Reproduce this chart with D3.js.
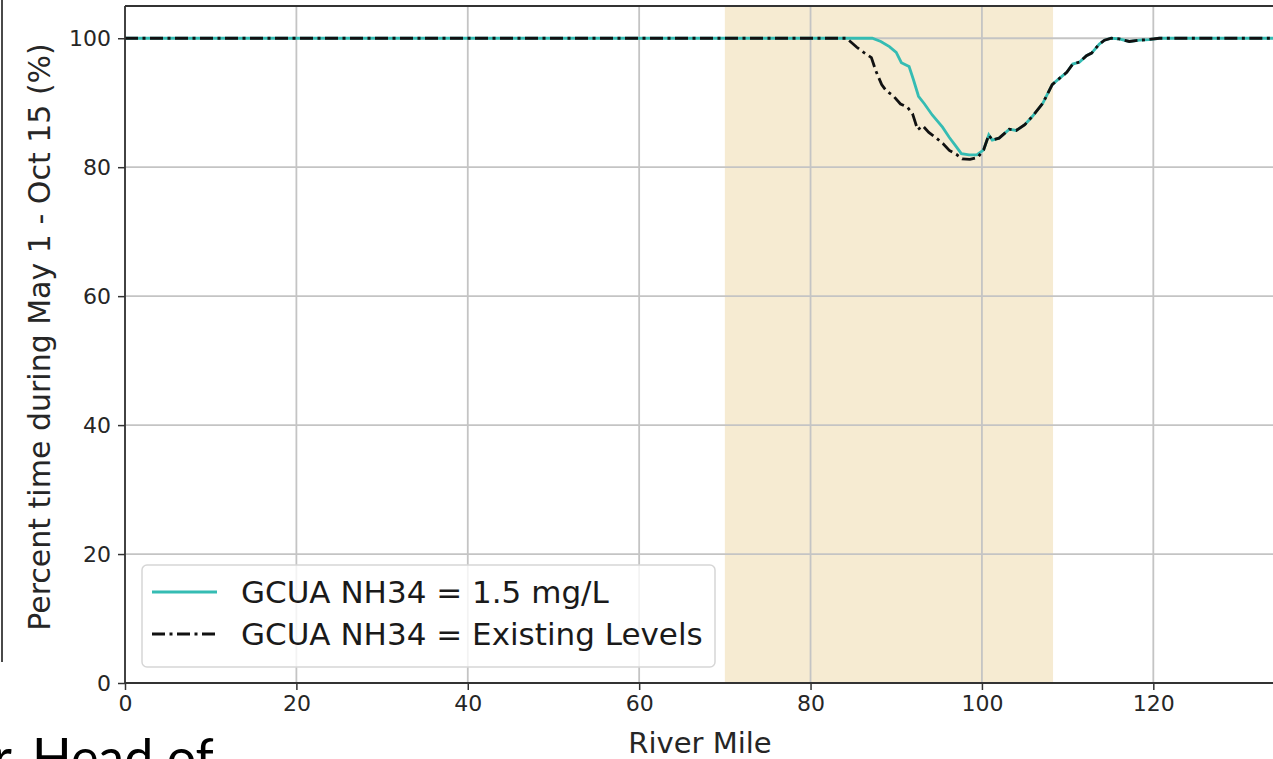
<!DOCTYPE html>
<html>
<head>
<meta charset="utf-8">
<script src="https://cdn.jsdelivr.net/npm/d3@7"></script>
<style>
    body { margin: 0; background: #ffffff; }
    svg { display: block; }
</style>
</head>
<body>
<div id="chart"></div>
<script>
// river mile / percent for GCUA NH34 = 1.5 mg/L
const milesTarget = [0, 87.2, 88.2, 89.2, 90.0, 90.6, 91.5, 92.0, 92.6, 93.3, 94.2, 95.4, 96.2, 97.0, 97.6, 98.5, 99.4, 100.2,
    100.8, 101.2, 102.0, 103.2, 104.0, 105.0, 105.9, 107.1, 108.2, 108.8, 109.9, 110.6, 111.4, 112.2, 112.8, 113.7, 114.3,
    115.1, 116.0, 117.2, 118.4, 119.5, 120.7, 134.2];
const pctTarget = [100, 100, 99.5, 98.7, 97.8, 96.2, 95.6, 93.6, 91.0, 89.8, 88.1, 86.2, 84.6, 83.2, 82.1, 81.9, 81.9, 82.7,
    85.0, 84.2, 84.5, 85.9, 85.7, 86.6, 87.9, 89.9, 92.8, 93.5, 94.7, 96.0, 96.3, 97.3, 97.7, 99.1, 99.7,
    100, 99.9, 99.5, 99.7, 99.8, 100, 100];

// river mile / percent for GCUA NH34 = Existing Levels
const milesExisting = [0, 84.2, 85.4, 86.2, 87.1, 87.6, 88.3, 88.8, 89.7, 90.5, 91.3, 91.9, 92.5, 93.1, 93.8, 94.7, 95.5, 96.2,
    97.0, 97.7, 98.6, 99.5, 100.2, 100.8, 101.2, 102.0, 103.2, 104.0, 105.0, 105.9, 107.1, 108.2, 108.8, 109.9, 110.6,
    111.4, 112.2, 112.8, 113.7, 114.3, 115.1, 116.0, 117.2, 118.4, 119.5, 120.7, 134.2];
const pctExisting = [100, 100, 98.6, 97.8, 97.0, 95.0, 92.8, 91.9, 91.0, 89.8, 89.3, 88.3, 85.8, 86.4, 85.4, 84.5, 83.6, 82.6,
    82.0, 81.3, 81.2, 81.5, 82.7, 85.0, 84.2, 84.5, 85.9, 85.7, 86.6, 87.9, 89.9, 92.8, 93.5, 94.7, 96.0,
    96.3, 97.3, 97.7, 99.1, 99.7, 100, 99.9, 99.5, 99.7, 99.8, 100, 100];

const shadedReach = [70, 108.3];
const xTicks = [0, 20, 40, 60, 80, 100, 120];
const yTicks = [0, 20, 40, 60, 80, 100];
const seriesNames = ["GCUA NH34 = 1.5 mg/L", "GCUA NH34 = Existing Levels"];

const svgWidth = 1273;
const svgHeight = 759;
const plotLeft = 125, plotRight = 1275, plotTop = 6, plotBottom = 683;
const fontFamily = "DejaVu Sans";
const cyan = "#35bcb3";

const svg = d3.select("#chart")
    .append("svg")
    .attr("width", svgWidth)
    .attr("height", svgHeight);

const xScale = d3.scaleLinear().domain([0, 134.2]).range([plotLeft, plotRight]);
const yScale = d3.scaleLinear().domain([0, 105]).range([plotBottom, plotTop]);

// shaded reach
svg.append("rect")
    .attr("x", xScale(shadedReach[0]))
    .attr("y", plotTop)
    .attr("width", xScale(shadedReach[1]) - xScale(shadedReach[0]))
    .attr("height", plotBottom - plotTop)
    .attr("fill", "#f6ebd2");

// grid
svg.append("g")
    .selectAll("line")
    .data(xTicks)
    .enter()
    .append("line")
    .attr("x1", d => xScale(d)).attr("x2", d => xScale(d))
    .attr("y1", plotTop).attr("y2", plotBottom)
    .attr("stroke", "#c4c4c4")
    .attr("stroke-width", 1.8);

svg.append("g")
    .selectAll("line")
    .data(yTicks)
    .enter()
    .append("line")
    .attr("x1", plotLeft).attr("x2", plotRight)
    .attr("y1", d => yScale(d)).attr("y2", d => yScale(d))
    .attr("stroke", "#c4c4c4")
    .attr("stroke-width", 1.8);

const line = d3.line()
    .x(d => xScale(d[0]))
    .y(d => yScale(d[1]));

svg.append("path")
    .datum(d3.zip(milesTarget, pctTarget))
    .attr("d", line)
    .attr("fill", "none")
    .attr("stroke", cyan)
    .attr("stroke-width", 2.8);

svg.append("path")
    .datum(d3.zip(milesExisting, pctExisting))
    .attr("d", line)
    .attr("fill", "none")
    .attr("stroke", "#111")
    .attr("stroke-width", 2.8)
    .attr("stroke-dasharray", "13,4.5,3,4.5");

// axes
const xAxis = svg.append("g")
    .attr("transform", `translate(0, ${plotBottom})`)
    .call(d3.axisBottom(xScale).tickValues(xTicks).tickSize(7).tickPadding(5));

const yAxis = svg.append("g")
    .attr("transform", `translate(${plotLeft}, 0)`)
    .call(d3.axisLeft(yScale).tickValues(yTicks).tickSize(7).tickPadding(7));

xAxis.select(".domain").remove();
yAxis.select(".domain").remove();
xAxis.selectAll("line").attr("stroke", "#333").attr("stroke-width", 1.5);
yAxis.selectAll("line").attr("stroke", "#333").attr("stroke-width", 1.5);
xAxis.selectAll("text").attr("fill", "#262626").attr("font-size", "22px").attr("font-family", fontFamily);
yAxis.selectAll("text").attr("fill", "#262626").attr("font-size", "22px").attr("font-family", fontFamily);

// spines
svg.append("line").attr("x1", plotLeft).attr("x2", plotRight).attr("y1", plotTop).attr("y2", plotTop)
    .attr("stroke", "#333").attr("stroke-width", 1.8);
svg.append("line").attr("x1", plotLeft).attr("x2", plotRight).attr("y1", plotBottom).attr("y2", plotBottom)
    .attr("stroke", "#333").attr("stroke-width", 2.2);
svg.append("line").attr("x1", plotLeft).attr("x2", plotLeft).attr("y1", plotTop).attr("y2", plotBottom)
    .attr("stroke", "#333").attr("stroke-width", 1.8);

// axis labels
svg.append("text")
    .attr("x", (plotLeft + plotRight) / 2)
    .attr("y", 753)
    .attr("text-anchor", "middle")
    .attr("fill", "#262626")
    .attr("font-size", "29px")
    .attr("font-family", fontFamily)
    .text("River Mile");

svg.append("text")
    .attr("transform", "translate(50, 337) rotate(-90)")
    .attr("text-anchor", "middle")
    .attr("fill", "#262626")
    .attr("font-size", "30px")
    .attr("font-family", fontFamily)
    .text("Percent time during May 1 - Oct 15 (%)");

// legend
const legend = svg.append("g");
legend.append("rect")
    .attr("x", 142).attr("y", 565)
    .attr("width", 573).attr("height", 102)
    .attr("rx", 5)
    .attr("fill", "white").attr("fill-opacity", 0.8)
    .attr("stroke", "#d6d6d6").attr("stroke-width", 1.5);

const legendStyles = [
    { stroke: cyan, dash: null },
    { stroke: "#111", dash: "13,4.5,3,4.5" }
];

for (let i = 0; i < seriesNames.length; i++) {
    const rowY = 592 + i * 42;
    legend.append("line")
        .attr("x1", 152).attr("x2", 217)
        .attr("y1", rowY).attr("y2", rowY)
        .attr("stroke", legendStyles[i].stroke)
        .attr("stroke-width", 2.8)
        .attr("stroke-dasharray", legendStyles[i].dash);
    legend.append("text")
        .attr("x", 241)
        .attr("y", rowY + 11)
        .attr("fill", "#1a1a1a")
        .attr("font-size", "31px")
        .attr("font-family", fontFamily)
        .text(seriesNames[i]);
}

// bits of the surrounding slide
svg.append("line").attr("x1", 2).attr("x2", 2).attr("y1", 0).attr("y2", 662)
    .attr("stroke", "#4a4a4a").attr("stroke-width", 2);

svg.append("text")
    .attr("x", 12)
    .attr("y", 776)
    .attr("text-anchor", "end")
    .attr("fill", "#000")
    .attr("font-size", "52px")
    .attr("font-family", "Lato")
    .text("r");

svg.append("text")
    .attr("x", 32)
    .attr("y", 776)
    .attr("fill", "#000")
    .attr("font-size", "52px")
    .attr("font-family", "Lato")
    .text("Head of");
</script>
</body>
</html>
